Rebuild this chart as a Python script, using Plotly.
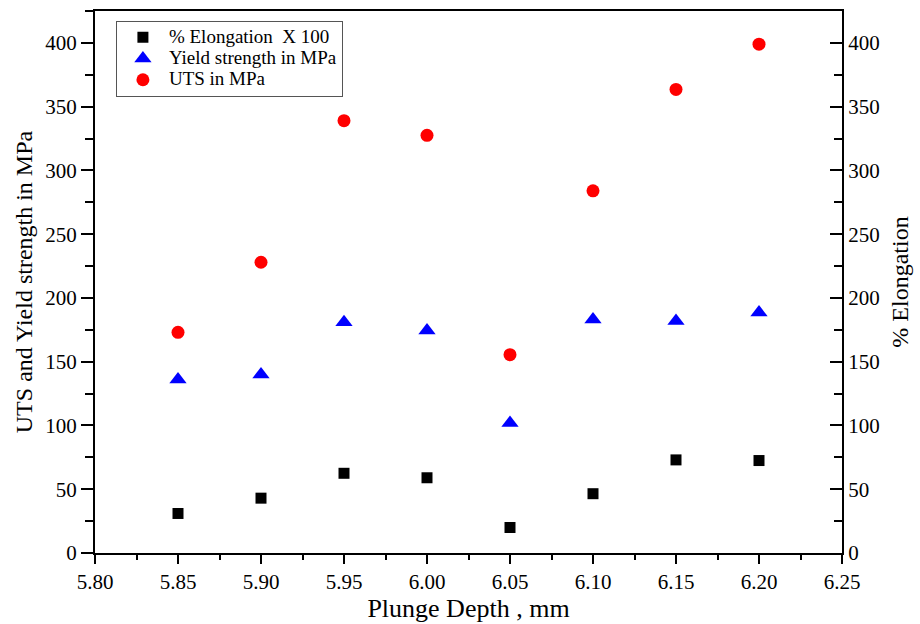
import plotly.graph_objects as go

# Plunge depth (mm) and measured properties
plunge_depth = [5.85, 5.90, 5.95, 6.00, 6.05, 6.10, 6.15, 6.20]
elongation_x100 = [31, 43, 62.5, 59, 20, 46.5, 73, 72.5]
yield_strength = [136, 140, 181, 174.5, 102, 183, 182, 188.5]
uts = [173, 228, 339, 327.5, 155.5, 284, 363.5, 399]

x_ticks = [5.80, 5.85, 5.90, 5.95, 6.00, 6.05, 6.10, 6.15, 6.20, 6.25]
y_ticks = [0, 50, 100, 150, 200, 250, 300, 350, 400]

FONT = "Times New Roman, Liberation Serif, serif"
TICK_FONT = dict(family=FONT, size=21, color="black")


def legend_label(text):
    # larger glyphs while keeping the compact row spacing of the legend
    return '<span style="font-size:19px">' + text + "</span>"


fig = go.Figure()

fig.add_trace(go.Scatter(
    x=plunge_depth, y=elongation_x100, mode="markers",
    name=legend_label("% Elongation  X 100"),
    marker=dict(symbol="square", size=11, color="black"),
    yaxis="y2",
))
fig.add_trace(go.Scatter(
    x=plunge_depth, y=yield_strength, mode="markers",
    name=legend_label("Yield strength in MPa"),
    marker=dict(symbol="triangle-up", size=15, color="#0000ff"),
))
fig.add_trace(go.Scatter(
    x=plunge_depth, y=uts, mode="markers",
    name=legend_label("UTS in MPa"),
    marker=dict(symbol="circle", size=13, color="#ff0000"),
))

fig.update_layout(
    width=920, height=624,
    margin=dict(l=95, r=78, t=11, b=71),
    paper_bgcolor="white", plot_bgcolor="white",
    font=dict(family=FONT, size=20, color="black"),
    showlegend=True,
    legend=dict(
        x=0.028, y=0.982, xanchor="left", yanchor="top",
        bordercolor="#555555", borderwidth=1, bgcolor="white",
        font=dict(family=FONT, size=14), itemsizing="trace",
        itemwidth=42, tracegroupgap=0,
    ),
    xaxis=dict(
        range=[5.80, 6.25], tickvals=x_ticks, tickformat=".2f",
        automargin=False,
        showgrid=False, zeroline=False,
        showline=True, linecolor="black", linewidth=2, mirror=True,
        ticks="outside", ticklen=9, tickwidth=2, tickcolor="black",
        minor=dict(ticks="outside", ticklen=5, tickwidth=2, dtick=0.025,
                   tick0=5.80, tickcolor="black"),
        tickfont=TICK_FONT,
        title=dict(text="Plunge Depth , mm", font=dict(family=FONT, size=26),
                   standoff=4),
    ),
    yaxis=dict(
        range=[0, 425], tickvals=y_ticks, automargin=False,
        showgrid=False, zeroline=False,
        showline=True, linecolor="black", linewidth=2,
        ticks="outside", ticklen=12, tickwidth=2, tickcolor="black",
        minor=dict(ticks="outside", ticklen=8, tickwidth=2, dtick=25,
                   tick0=0, tickcolor="black"),
        tickfont=TICK_FONT,
        title=dict(text="UTS and Yield strength in MPa",
                   font=dict(family=FONT, size=24), standoff=6),
    ),
    yaxis2=dict(
        range=[0, 425], tickvals=y_ticks, overlaying="y", side="right",
        automargin=False,
        showgrid=False, zeroline=False,
        showline=True, linecolor="black", linewidth=2,
        ticks="inside", ticklen=12, tickwidth=2, tickcolor="black",
        minor=dict(ticks="inside", ticklen=8, tickwidth=2, dtick=25,
                   tick0=0, tickcolor="black"),
        tickfont=TICK_FONT,
        title=dict(text="% Elongation", font=dict(family=FONT, size=24),
                   standoff=12),
    ),
)

fig.write_html("out.html")
